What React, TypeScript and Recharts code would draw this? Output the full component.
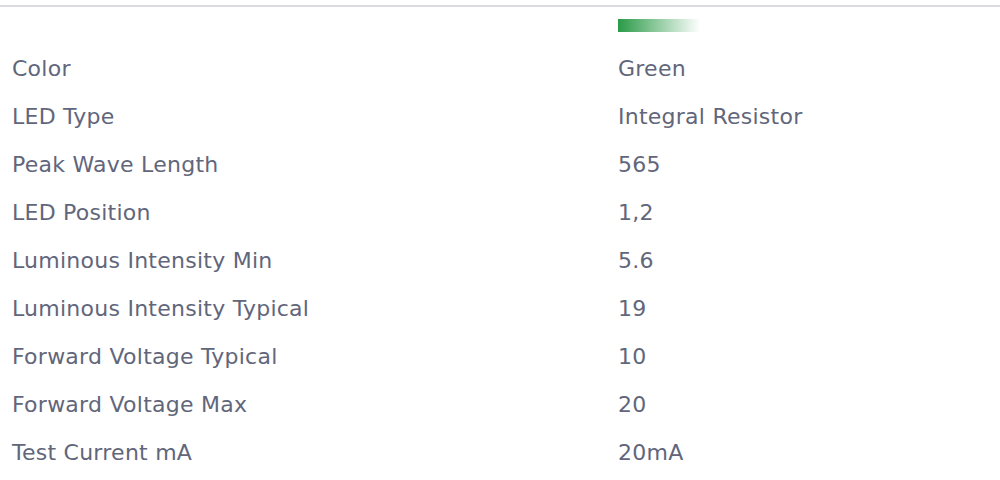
import React from 'react';
import { BarChart, Bar, XAxis, YAxis } from 'recharts';

const specLabels = [
  'Color',
  'LED Type',
  'Peak Wave Length',
  'LED Position',
  'Luminous Intensity Min',
  'Luminous Intensity Typical',
  'Forward Voltage Typical',
  'Forward Voltage Max',
  'Test Current mA',
];

const specValues = [
  'Green',
  'Integral Resistor',
  '565',
  '1,2',
  '5.6',
  '19',
  '10',
  '20',
  '20mA',
];

const swatchNames = ['Green'];
const swatchLevels = [1];

const FONT = '"DejaVu Sans", Verdana, sans-serif';
const TEXT_COLOR = '#61667b';

const rows = specLabels.map((label, i) => ({ label, value: specValues[i] }));
const swatch = swatchNames.map((name, i) => ({ name, level: swatchLevels[i] }));

const RowTick = (props: any) => {
  const { y, payload } = props;
  const idx = specLabels.indexOf(payload.value);
  return (
    <g>
      <text x={12} y={y} dy="0.36em" textAnchor="start" fill={TEXT_COLOR} fontSize={22} letterSpacing={0.25} fontFamily={FONT}>
        {payload.value}
      </text>
      <text x={618} y={y} dy="0.36em" textAnchor="start" fill={TEXT_COLOR} fontSize={22} letterSpacing={0.25} fontFamily={FONT}>
        {specValues[idx]}
      </text>
    </g>
  );
};

const App = () => {
  return (
    <div style={{ position: 'absolute', top: 0, left: 0, width: 1000, height: 480, background: '#fff' }}>
      <div style={{ position: 'absolute', top: 5, left: 0, width: 1000, height: 2, background: '#dddbe2' }} />
      <div style={{ position: 'absolute', top: 0, left: 0 }}>
        <BarChart width={1000} height={51} data={swatch} layout="vertical" margin={{ top: 0, right: 300, left: 618, bottom: 0 }}>
          <defs>
            <linearGradient id="greenFade" x1="0" y1="0" x2="1" y2="0">
              <stop offset="0%" stopColor="#2a9a47" />
              <stop offset="100%" stopColor="#ffffff" />
            </linearGradient>
          </defs>
          <XAxis type="number" domain={[0, 1]} hide />
          <YAxis type="category" dataKey="name" hide width={0} />
          <Bar dataKey="level" barSize={13} fill="url(#greenFade)" isAnimationActive={false} />
        </BarChart>
      </div>
      <div style={{ position: 'absolute', top: 44, left: 0 }}>
        <BarChart width={1000} height={432} data={rows} layout="vertical" margin={{ top: 0, right: 0, left: 0, bottom: 0 }}>
          <XAxis type="number" domain={[0, 1]} hide />
          <YAxis
            type="category"
            dataKey="label"
            width={1}
            axisLine={false}
            tickLine={false}
            interval={0}
            tick={<RowTick />}
          />
        </BarChart>
      </div>
    </div>
  );
};

export default App;
